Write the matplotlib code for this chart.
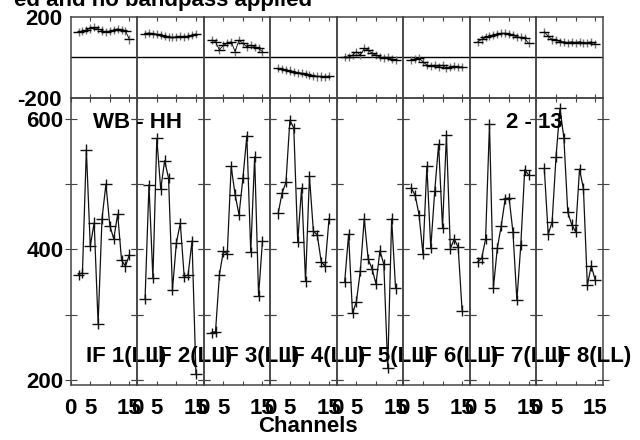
import numpy as np
import matplotlib
matplotlib.use('Agg')
import matplotlib.pyplot as plt

plt.rcParams['font.family'] = ['Liberation Sans', 'DejaVu Sans']
plt.rcParams['font.weight'] = 'bold'
plt.rcParams['font.size'] = 16

# channels plotted in every IF
channels = np.arange(2, 16)

# amplitude per IF
amp_if1 = [361, 364, 553, 405, 441, 286, 447, 500, 436, 416, 454, 383, 374, 392]
amp_if2 = [324, 499, 356, 570, 492, 536, 509, 338, 410, 440, 358, 361, 413, 209]
amp_if3 = [272, 274, 361, 397, 393, 527, 484, 453, 509, 574, 396, 542, 329, 413]
amp_if4 = [455, 486, 503, 598, 586, 412, 494, 351, 512, 428, 422, 381, 374, 447]
amp_if5 = [350, 423, 302, 320, 367, 447, 385, 370, 347, 398, 377, 218, 447, 340]
amp_if6 = [494, 483, 453, 393, 527, 402, 489, 561, 433, 575, 401, 416, 403, 306]
amp_if7 = [381, 386, 416, 592, 341, 402, 436, 477, 479, 426, 322, 407, 522, 514]
amp_if8 = [524, 423, 442, 542, 616, 571, 457, 438, 427, 523, 493, 345, 375, 353]

# phase per IF (degrees)
phase_if1 = [125, 128, 135, 142, 148, 140, 132, 125, 128, 135, 140, 135, 130, 88]
phase_if2 = [117, 120, 117, 114, 110, 106, 101, 98, 101, 104, 101, 104, 108, 116]
phase_if3 = [85, 77, 36, 60, 69, 77, 28, 85, 69, 52, 60, 52, 44, 28]
phase_if4 = [-54, -59, -62, -65, -70, -75, -78, -81, -86, -91, -94, -94, -98, -91]
phase_if5 = [3, 0, 11, 28, 11, 44, 36, 20, 11, 3, -5, 0, -8, -13]
phase_if6 = [-13, -10, -5, -21, -38, -43, -38, -46, -38, -54, -46, -43, -49, -46]
phase_if7 = [77, 88, 98, 104, 109, 114, 118, 118, 114, 109, 101, 98, 93, 69]
phase_if8 = [126, 104, 88, 85, 77, 77, 72, 77, 72, 77, 72, 72, 77, 66]

amps = [amp_if1, amp_if2, amp_if3, amp_if4, amp_if5, amp_if6, amp_if7, amp_if8]
phases = [phase_if1, phase_if2, phase_if3, phase_if4, phase_if5, phase_if6, phase_if7, phase_if8]
if_labels = ['IF 1(LL)', 'IF 2(LL)', 'IF 3(LL)', 'IF 4(LL)',
             'IF 5(LL)', 'IF 6(LL)', 'IF 7(LL)', 'IF 8(LL)']

fig = plt.figure(figsize=(6.4, 4.4), dpi=100)

left, right = 70.7 / 640, 603 / 640
w = (right - left) / 8
amp_bot, amp_top = 1 - 385 / 440, 1 - 98 / 440
ph_top = 1 - 16.7 / 440
frame = '#444444'

for i in range(8):
    x0 = left + i * w
    axp = fig.add_axes([x0, amp_top, w, ph_top - amp_top])
    axa = fig.add_axes([x0, amp_bot, w, amp_top - amp_bot])
    for ax in (axp, axa):
        ax.patch.set_visible(False)
        for s in ax.spines.values():
            s.set_color(frame)
            s.set_linewidth(1.1)
        ax.set_xlim(0, 17)

    # phase panel
    axp.set_ylim(-200, 200)
    axp.axhline(0, color='black', lw=1.0)
    axp.errorbar(channels, phases[i], yerr=20, fmt='none', ecolor='0.45', elinewidth=1.0)
    axp.errorbar(channels, phases[i], xerr=1.3, fmt='-', color='black', lw=0.6,
                 elinewidth=1.0, capsize=0)
    axp.set_xticks([5, 10, 15])
    axp.tick_params(axis='x', direction='in', top=True, bottom=True, length=3,
                    labelbottom=False, color=frame)
    if i == 0:
        axp.set_yticks([-200, 200])
        axp.set_yticklabels(['-200', '200'])
        axp.tick_params(axis='y', length=0, pad=6.3)
    else:
        axp.set_yticks([])

    # amplitude panel
    axa.set_ylim(192, 632)
    axa.errorbar(channels, amps[i], xerr=1.5, yerr=8, fmt='-', color='#111111', lw=0.9,
                 elinewidth=1.0, capsize=0)
    axa.set_xticks([0, 5, 10, 15])
    axa.set_xticklabels(['0', '5', '', '15'])
    axa.tick_params(axis='x', direction='in', top=True, bottom=True, length=3,
                    pad=9.5, color=frame)
    axa.set_yticks([200, 300, 400, 500, 600])
    axa.tick_params(axis='y', direction='inout', left=True, right=True, length=8.6,
                    pad=1, color=frame)
    if i == 0:
        axa.set_yticklabels(['200', '', '400', '', '600'])
    else:
        axa.set_yticklabels([])
    axa.text(0.226, 0.0976, if_labels[i], transform=axa.transAxes,
             ha='left', va='center')

fig.text(93 / 640, 1 - 123 / 440, 'WB - HH', ha='left', va='center')
fig.text(506 / 640, 1 - 123 / 440, '2 - 13', ha='left', va='center')
fig.text(312 / 640, 1 - 6 / 440, 'ed and no bandpass applied', ha='right', va='baseline')
fig.text(308 / 640, 1 - 426 / 440, 'Channels', ha='center', va='center')

fig.savefig('out.png', dpi=100)
